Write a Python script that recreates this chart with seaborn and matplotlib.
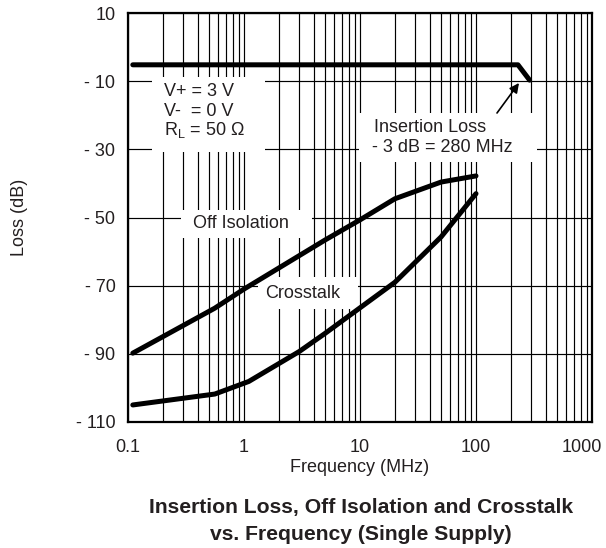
import numpy as np
import pandas as pd
import matplotlib
matplotlib.use("Agg")
import matplotlib.pyplot as plt
import seaborn as sns
from matplotlib.patches import Rectangle
from matplotlib.transforms import ScaledTranslation

# ---------------- data ----------------
freq_ins = [0.11, 230, 290]
loss_ins = [-5.2, -5.2, -9.7]

freq_off = [0.11, 0.56, 1.0, 5.0, 10, 20, 50, 100]
loss_off = [-89.8, -76.6, -71.0, -56.6, -50.7, -44.5, -39.6, -37.8]

freq_xt = [0.11, 0.56, 1.1, 3.0, 5.0, 10, 20, 50, 100]
loss_xt = [-105.0, -101.8, -98.1, -89.3, -84.0, -76.5, -69.0, -55.7, -43.0]

x_ticks = [0.1, 1, 10, 100, 1000]
x_ticklabels = ["0.1", "1", "10", "100", "1000"]
y_ticks = [10, -10, -30, -50, -70, -90, -110]
y_ticklabels = ["10", "- 10", "- 30", "- 50", "- 70", "- 90", "- 110"]

# ---------------- style ----------------
sns.set_style("white")
plt.rcParams["font.family"] = ["Liberation Sans", "DejaVu Sans"]
plt.rcParams["mathtext.fontset"] = "custom"
plt.rcParams["mathtext.rm"] = "Liberation Sans"
plt.rcParams["mathtext.it"] = "Liberation Sans"

TXT = "#231f20"
W, H = 606, 548
fig = plt.figure(figsize=(W / 100, H / 100), dpi=100)
L, R, T, B = 128, 592, 13, 422
ax = fig.add_axes([L / W, 1 - B / H, (R - L) / W, (B - T) / H])

def ax_px(px, py):
    return ((px - L) / (R - L), (B - py) / (B - T))

lw = 3.6
for fx, fy in [(freq_ins, loss_ins), (freq_off, loss_off), (freq_xt, loss_xt)]:
    df = pd.DataFrame({"f": fx, "loss": fy})
    sns.lineplot(data=df, x="f", y="loss", ax=ax, color="black", lw=lw,
                 sort=False, estimator=None, zorder=3,
                 solid_capstyle="round", solid_joinstyle="round")

ax.set_xscale("log")
ax.set_xlim(0.1, 1000)
ax.set_ylim(-110, 10)
ax.set_xticks(x_ticks)
ax.set_xticklabels(x_ticklabels)
minor = [m * d for d in [0.1, 1, 10, 100] for m in range(2, 10)]
ax.set_xticks(minor, minor=True)
ax.set_xticklabels([], minor=True)
ax.set_yticks(y_ticks)
ax.set_yticklabels(y_ticklabels)
ax.set_axisbelow(True)
ax.grid(True, which="both", axis="x", color="black", lw=0.85)
ax.grid(True, which="major", axis="y", color="black", lw=0.85)
ax.tick_params(axis="both", which="both", length=0, labelsize=13, labelcolor=TXT)
ax.tick_params(axis="x", pad=12)
ax.tick_params(axis="y", pad=9)
for s in ax.spines.values():
    s.set_color("black")
    s.set_linewidth(1.6)
    s.set_visible(True)

# shift "1000" label left so it fits
lab = ax.get_xticklabels()[-1]
lab.set_transform(lab.get_transform() + ScaledTranslation(-10 / 100, 0, fig.dpi_scale_trans))

ax.set_xlabel("")
ax.set_ylabel("")

# white boxes behind annotations
boxes = [(152, 77, 265, 152), (359, 113, 537, 162), (181, 210, 312, 238), (258, 277, 358, 309)]
for x0, y0, x1, y1 in boxes:
    a0 = ax_px(x0, y1)
    a1 = ax_px(x1, y0)
    ax.add_patch(Rectangle(a0, a1[0] - a0[0], a1[1] - a0[1], transform=ax.transAxes,
                           facecolor="white", edgecolor="none", zorder=1.5))

def put(text, px, py, **kw):
    x, y = ax_px(px, py)
    ax.text(x, y, text, transform=ax.transAxes, fontsize=13, color=TXT,
            ha="left", va="center", zorder=4, **kw)

put("V+ = 3 V", 164, 92)
put("V-  = 0 V", 164, 111)
put(r"R$_\mathregular{L}$ = 50 Ω", 164, 130)
put("Insertion Loss", 374, 127)
put("- 3 dB = 280 MHz", 372, 147)
put("Off Isolation", 193, 224)
put("Crosstalk", 265, 293)

ax.annotate("", xy=ax_px(519, 83), xytext=ax_px(497, 113),
            xycoords="axes fraction", textcoords="axes fraction",
            arrowprops=dict(arrowstyle="-|>", color="black", lw=1.2,
                            mutation_scale=14, shrinkA=0, shrinkB=0),
            zorder=4)

fig.text((L + R) / 2 / W, 1 - 468 / H, "Frequency (MHz)", ha="center", va="center",
         fontsize=13, color=TXT)
fig.text(20 / W, 1 - 217 / H, "Loss (dB)", ha="center", va="center", rotation=90,
         fontsize=13, color=TXT)
fig.text(361 / W, 1 - 508 / H, "Insertion Loss, Off Isolation and Crosstalk",
         ha="center", va="center", fontsize=15.2, fontweight="bold", color=TXT)
fig.text(361 / W, 1 - 534 / H, "vs. Frequency (Single Supply)",
         ha="center", va="center", fontsize=15.2, fontweight="bold", color=TXT)

fig.savefig("out.png", dpi=100, facecolor="white")
